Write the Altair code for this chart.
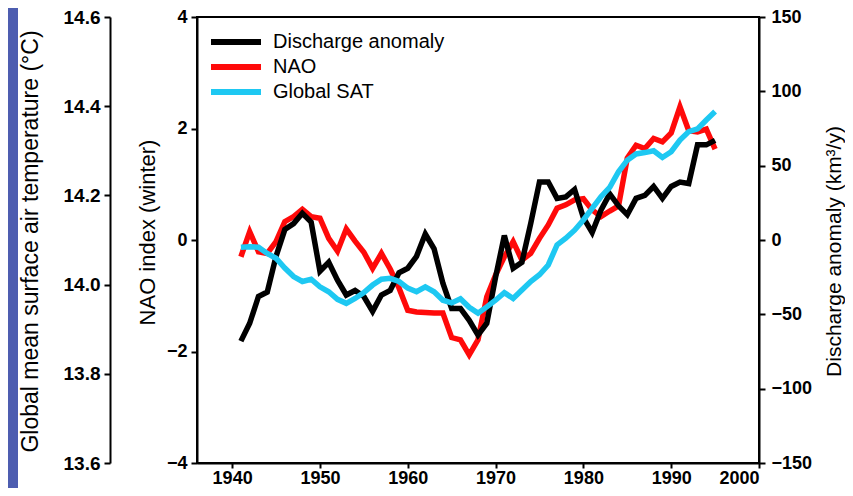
import altair as alt
import pandas as pd

# ---------------- data ----------------
years = list(range(1941, 1996))

discharge = [-68, -56, -38, -35, -11, 7, 11, 18, 12, -21,
             -15, -27, -37, -34, -38, -48, -37, -34, -22, -19,
             -11, 4, -6, -29, -46, -46, -54, -64, -56, -25,
             3, -19, -15, 11, 39, 39, 28, 29, 34, 15,
             5, 20, 31, 23, 17, 28, 30, 36, 28, 36,
             39, 38, 64, 64, 67]

nao = [-0.30, 0.15, -0.21, -0.24, -0.03, 0.33, 0.42, 0.55, 0.42, 0.39,
       0.03, -0.20, 0.20, -0.02, -0.22, -0.51, -0.24, -0.52, -0.86, -1.26,
       -1.29, -1.30, -1.31, -1.31, -1.75, -1.79, -2.06, -1.79, -1.02, -0.63,
       -0.30, -0.03, -0.36, -0.24, 0.03, 0.27, 0.57, 0.63, 0.72, 0.74,
       0.54, 0.42, 0.52, 0.61, 1.47, 1.70, 1.64, 1.82, 1.76, 1.92,
       2.39, 1.96, 1.94, 1.99, 1.63]

sat = [14.084, 14.085, 14.084, 14.070, 14.059, 14.037, 14.018, 14.007, 14.012, 13.995,
       13.984, 13.967, 13.958, 13.969, 13.982, 13.999, 14.012, 14.014, 14.007, 13.992,
       13.984, 13.995, 13.984, 13.965, 13.959, 13.968, 13.949, 13.936, 13.950, 13.965,
       13.982, 13.969, 13.988, 14.007, 14.022, 14.044, 14.089, 14.104, 14.122, 14.145,
       14.171, 14.197, 14.218, 14.253, 14.279, 14.293, 14.296, 14.300, 14.285, 14.298,
       14.324, 14.343, 14.349, 14.369, 14.388]

series_names = ["Discharge anomaly", "NAO", "Global SAT"]
series_colors = ["#000000", "#ff0a0a", "#1ec8f2"]

x_ticks = [1940, 1950, 1960, 1970, 1980, 1990, 2000]
nao_ticks = [-4, -2, 0, 2, 4]
sat_ticks = [13.6, 13.8, 14.0, 14.2, 14.4, 14.6]
dis_ticks = [-150, -100, -50, 0, 50, 100, 150]

x_domain = [1936, 2000]
nao_domain = [-4, 4]
sat_domain = [13.6, 14.6]
dis_domain = [-150, 150]

FONT = "Liberation Sans"

df_d = pd.DataFrame({"year": years, "value": discharge, "series": series_names[0]})
df_n = pd.DataFrame({"year": years, "value": nao, "series": series_names[1]})
df_s = pd.DataFrame({"year": years, "value": sat, "series": series_names[2]})
df_strip = pd.DataFrame({"k": [0]})

axis_style = dict(
    domainColor="black", domainWidth=2, tickColor="black", tickWidth=2,
    labelColor="black", labelFont=FONT,
    labelFontWeight="bold", titleFont=FONT,
    titleFontWeight="normal", titleColor="black", grid=False, zindex=1,
)

color = alt.Color(
    "series:N",
    scale=alt.Scale(domain=series_names, range=series_colors),
    legend=alt.Legend(
        orient="none", legendX=11, legendY=15, title=None,
        symbolType="stroke", symbolSize=2500, symbolStrokeWidth=6,
        labelFont=FONT, labelFontSize=20, labelColor="black", labelLimit=400,
        labelOffset=9, rowPadding=5, clipHeight=20, padding=0,
    ),
)

x_scale = alt.Scale(domain=x_domain, nice=False, zero=False)
x_axis = alt.Axis(values=x_ticks, format="d", title=None, tickSize=5, labelPadding=1,
                  labelFontSize=18, **axis_style)
x_enc = alt.X("year:Q", scale=x_scale, axis=x_axis)

strip = alt.Chart(df_strip).mark_rect(color="#4d5db0").encode(
    x=alt.value(-189), x2=alt.value(-179), y=alt.value(-9), y2=alt.value(479)
)

nao_line = alt.Chart(df_n).mark_line(strokeWidth=5.5).encode(
    x=x_enc,
    y=alt.Y("value:Q", scale=alt.Scale(domain=nao_domain, nice=False, zero=False),
            axis=alt.Axis(orient="left", values=nao_ticks, title="NAO index (winter)",
                          tickSize=6, labelPadding=4, labelFontSize=18, titleFontSize=22,
                          titleAngle=270, titleX=-50, titleY=215,
                          titleBaseline="middle", titleAlign="center", **axis_style)),
    color=color,
)

dis_line = alt.Chart(df_d).mark_line(strokeWidth=5.5).encode(
    x=x_enc,
    y=alt.Y("value:Q", scale=alt.Scale(domain=dis_domain, nice=False, zero=False),
            axis=alt.Axis(orient="right", values=dis_ticks, title="Discharge anomaly (km³/y)",
                          labelExpr="datum.value < 0 ? datum.label : '\u2002' + datum.label",
                          tickSize=6, labelPadding=6, labelFontSize=18, titleFontSize=21,
                          titleAngle=270, titleX=75, titleY=234,
                          titleBaseline="middle", titleAlign="center", **axis_style)),
    color=color,
)

sat_line = alt.Chart(df_s).mark_line(strokeWidth=5.5).encode(
    x=x_enc,
    y=alt.Y("value:Q", scale=alt.Scale(domain=sat_domain, nice=False, zero=False),
            axis=alt.Axis(orient="left", offset=87, values=sat_ticks, format=".1f",
                          title="Global mean surface air temperature (°C)",
                          tickSize=6, labelPadding=4, labelFontSize=19, titleFontSize=23,
                          titleAngle=270, titleX=-80, titleY=224,
                          titleBaseline="middle", titleAlign="center", **axis_style)),
    color=color,
)

chart = (
    alt.layer(strip, nao_line, dis_line, sat_line)
    .resolve_scale(y="independent")
    .properties(
        width=562, height=446,
        autosize=alt.AutoSizeParams(type="none"),
        padding={"left": 189, "top": 9, "right": 86, "bottom": 25},
        background="white",
    )
    .configure_view(stroke="black", strokeWidth=2)
)

chart.save("out.html", embed_options={"renderer": "svg", "actions": False})
